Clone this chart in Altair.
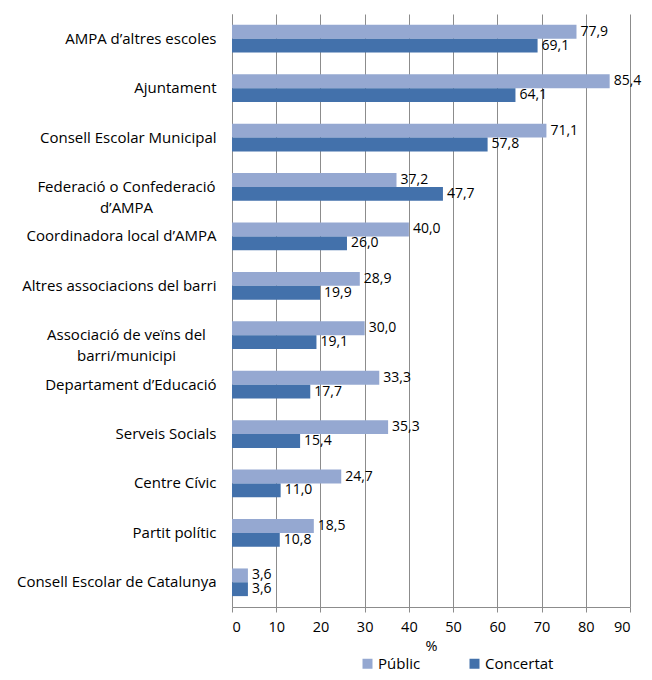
import altair as alt
import pandas as pd

categories = [
    "AMPA d’altres escoles",
    "Ajuntament",
    "Consell Escolar Municipal",
    "Federació o Confederació|d’AMPA",
    "Coordinadora local d’AMPA",
    "Altres associacions del barri",
    "Associació de veïns del|barri/municipi",
    "Departament d’Educació",
    "Serveis Socials",
    "Centre Cívic",
    "Partit polític",
    "Consell Escolar de Catalunya",
]
series = ["Públic", "Concertat"]
publ = [77.9, 85.4, 71.1, 37.2, 40.0, 28.9, 30.0, 33.3, 35.3, 24.7, 18.5, 3.6]
conc = [69.1, 64.1, 57.8, 47.7, 26.0, 19.9, 19.1, 17.7, 15.4, 11.0, 10.8, 3.6]
colors = ["#95A8D1", "#4371AB"]
x_ticks = [0, 10, 20, 30, 40, 50, 60, 70, 80, 90]

rows = []
for c, p, k in zip(categories, publ, conc):
    rows.append({"cat": c, "serie": series[0], "v": p})
    rows.append({"cat": c, "serie": series[1], "v": k})
df = pd.DataFrame(rows)

FONT = "Open Sans"

y_enc = alt.Y(
    "cat:N",
    sort=categories,
    scale=alt.Scale(paddingInner=0.44, paddingOuter=0.22),
    axis=alt.Axis(
        title=None,
        ticks=False,
        labelExpr="split(datum.label, '|')",
        labelAlign=alt.condition("indexof(datum.value, '|') >= 0", alt.value("center"), alt.value("right")),
        labelPadding=alt.condition("indexof(datum.value, '|') >= 0", alt.value(106), alt.value(16)),
        labelLineHeight=21,
        labelFont=FONT,
        labelFontSize=15,
        labelColor="#000000",
        domainColor="#8C8C8C",
        labelLimit=300,
    ),
)
yoff = alt.YOffset("serie:N", sort=series)

base = alt.Chart(df)

bars = base.mark_bar().encode(
    x=alt.X(
        "v:Q",
        scale=alt.Scale(domain=[0, 90], nice=False),
        axis=alt.Axis(
            values=x_ticks,
            title="%",
            titleFont=FONT,
            titleFontSize=14.5,
            titleFontWeight="normal",
            titleColor="#000000",
            titlePadding=6,
            labelFont=FONT,
            labelFontSize=14.5,
            labelColor="#000000",
            labelPadding=8,
            grid=True,
            gridColor="#8C8C8C",
            domainColor="#8C8C8C",
            tickColor="#8C8C8C",
            tickSize=5,
        ),
    ),
    y=y_enc,
    yOffset=yoff,
    color=alt.Color(
        "serie:N",
        sort=series,
        scale=alt.Scale(domain=series, range=colors),
        legend=alt.Legend(
            title=None,
            orient="none",
            legendX=128,
            legendY=642,
            direction="horizontal",
            symbolType="square",
            symbolSize=100,
            symbolStrokeWidth=0,
            labelFont=FONT,
            labelFontSize=15,
            labelColor="#000000",
            labelOffset=3,
            columnPadding=46,
        ),
    ),
)

labels = base.transform_calculate(
    lbl="replace(format(datum.v, '.1f'), '.', ',')"
).mark_text(align="left", baseline="middle", dx=4, font=FONT, fontSize=14, color="#000000").encode(
    x="v:Q",
    y=alt.Y("cat:N", sort=categories),
    yOffset=yoff,
    text="lbl:N",
)

chart = (
    alt.layer(bars, labels)
    .properties(
        width=398,
        height=593,
        autosize=alt.AutoSizeParams(type="none"),
        padding={"left": 224, "top": 6, "right": 13, "bottom": 65},
    )
    .configure_view(stroke="transparent")
)

chart.save("out.html", embed_options={"renderer": "svg", "actions": False})
